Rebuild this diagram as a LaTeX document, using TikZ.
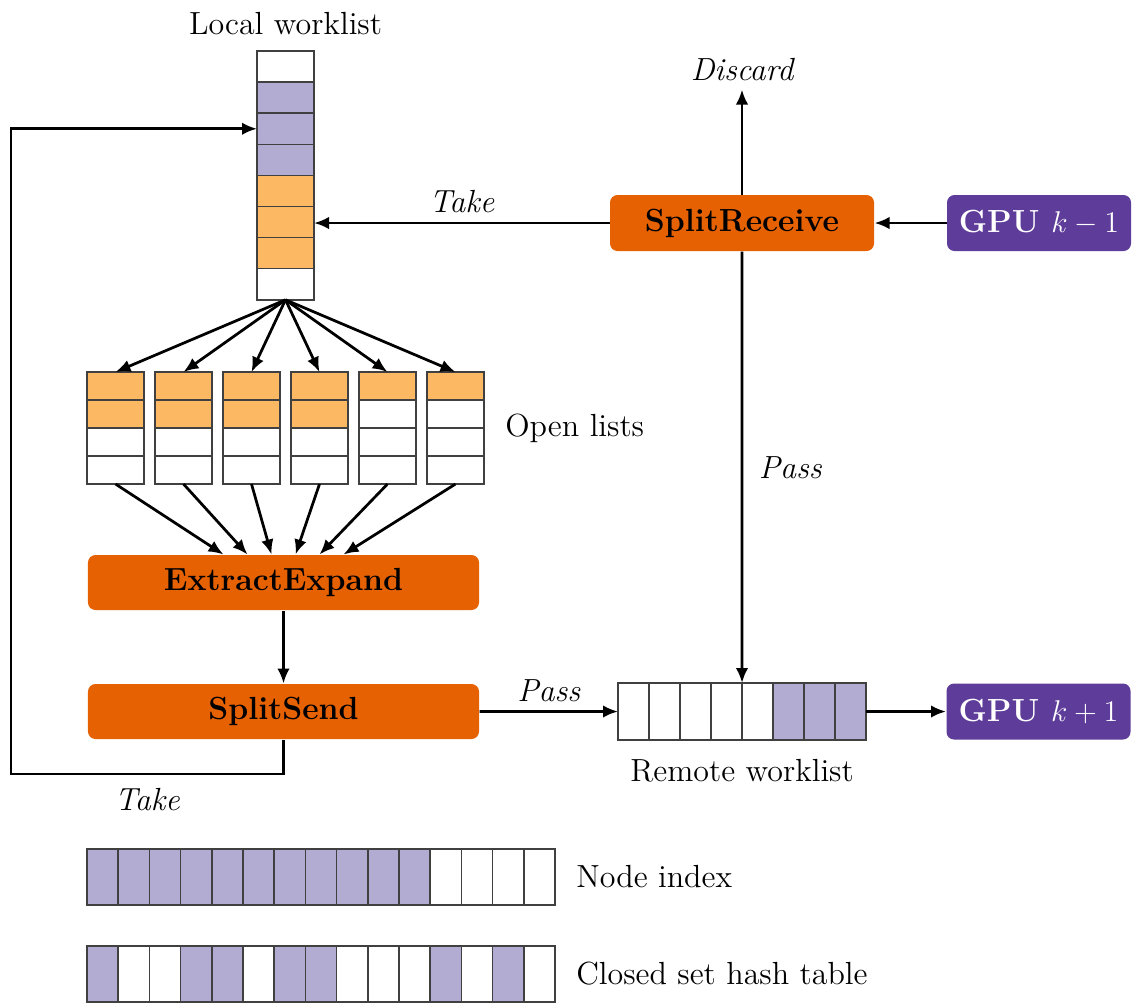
\documentclass[tikz,border=0pt]{standalone}
\usepackage{amsmath,amssymb}
\usepackage{xcolor}
\usepackage{tikz}
\usetikzlibrary{arrows.meta,positioning,calc}
\definecolor{procorange}{HTML}{E66101}
\definecolor{cellorange}{HTML}{FDB863}
\definecolor{celllilac}{HTML}{B2ABD2}
\definecolor{gpupurple}{HTML}{5E3C99}
\newcommand{\diagfont}{\fontsize{12.8}{15.4}\selectfont}
\tikzset{
	cell/.style={draw=black!75, line width=0.6pt, inner sep=0pt, outer sep=0pt},
	procbox/.style={fill=procorange, rounded corners=3pt, align=center,
		font=\diagfont\bfseries, minimum height=22pt},
	gpubox/.style={fill=gpupurple, rounded corners=3pt, text=white,
		font=\diagfont\bfseries, minimum width=73.6pt, minimum height=22.4pt},
	arrow/.style={-{Latex[length=6pt,width=5pt]}, line width=1.1pt},
	edgelabel/.style={font=\diagfont\itshape},
	caption/.style={font=\diagfont}
}

\begin{document}
\begin{tikzpicture}[x=0.4pt, y=-0.4pt,
			wcell/.style={cell, minimum width=22.8pt, minimum height=12.45pt},
			ocell/.style={cell, minimum width=22.8pt, minimum height=11.2pt},
			rcell/.style={cell, minimum width=12.4pt, minimum height=22.8pt},
			tcell/.style={cell, minimum width=12.48pt, minimum height=22.4pt},
			]
			\useasboundingbox (0,0) rectangle (1133,1003);
			
			%% -- Local worklist (stack of cells)
			\foreach \k/\col in {1/white,2/celllilac,3/celllilac,4/celllilac,
				5/cellorange,6/cellorange,7/cellorange,8/white}
			\node[wcell, fill=\col] (lw-\k) at (285.5,{51+31.1*(\k-0.5)}) {};
			
			\node[caption, above=3pt of lw-1] (lwcap) {Local worklist};
			
			%% -- Open lists (six short columns)
			\foreach \c/\colb in {1/cellorange,2/cellorange,3/cellorange,
				4/cellorange,5/white,6/white} {
				\node[ocell, fill=cellorange] (ol-\c-1) at ({115.5+68*(\c-1)},386) {};
				\node[ocell, fill=\colb, below=0pt of ol-\c-1] (ol-\c-2) {};
				\node[ocell, fill=white, below=0pt of ol-\c-2] (ol-\c-3) {};
				\node[ocell, fill=white, below=0pt of ol-\c-3] (ol-\c-4) {};
			}
			
			\node[caption, right=5pt of ol-6-2.south east] (olcap) {Open lists};
			
			%% -- Kernels
			\node[procbox, minimum width=156.4pt] (ee) at (283.5,582.5)
			{ExtractExpand};
			
			\node[procbox, minimum width=156.4pt, below=29.2pt of ee] (ss)
			{SplitSend};
			
			\node[procbox, minimum width=105.6pt, minimum height=22.4pt] (sr)
			at (742,223) {SplitReceive};
			
			%% -- Neighbour GPUs
			\node[gpubox, right=28.8pt of sr] (gpuprev) {GPU $k-1$};
			
			%% -- Remote worklist (row of cells)
			\foreach \k/\col in {1/white,2/white,3/white,4/white,5/white,
				6/celllilac,7/celllilac,8/celllilac}
			\node[rcell, fill=\col] (rw-\k) at ({618+31*(\k-0.5)},711.5) {};
			
			\node[caption, below=4pt of rw-4.south east] (rwcap) {Remote worklist};
			
			\node[gpubox, right=32pt of rw-8] (gpunext) {GPU $k+1$};
			
			%% -- Worklist to open lists, open lists to ExtractExpand
			\foreach \c in {1,...,6}
			\draw[arrow] (lw-8.south) -- (ol-\c-1.north);
			
			\foreach \c in {1,...,6}
			\draw[arrow] (ol-\c-4.south) -- ($(ee.north)+({24*\c-84},0)$);
			
			\draw[arrow] (ee.south) -- (ss.north);
			
			%% -- Take loop back into the local worklist
			\coordinate (loopcorner) at (11,774);
			\draw[arrow] (ss.south) |- (loopcorner)
			node[pos=0.75, below=2pt, edgelabel] (takeloop) {Take}
			|- (lw-3.west);
			
			%% -- Pass edges
			\draw[arrow] (ss.east) -- (rw-1.west)
			node[midway, above, edgelabel] (passout) {Pass};
			
			\draw[arrow] (rw-8.east) -- (gpunext.west);
			
			\draw[arrow] (sr.south) -- (rw-4.north east)
			node[midway, right=1mm, edgelabel] (passdown) {Pass};
			
			%% -- Receive side
			\draw[arrow] (gpuprev.west) -- (sr.east);
			
			\draw[arrow] (sr.west) -- (sr.west -| lw-6.east)
			node[midway, above, edgelabel] (takein) {Take};
			
			\node[edgelabel, above=42pt of sr] (discard) {Discard};
			\draw[arrow] (sr.north) -- (discard.south);
			
			%% -- Node index and closed set
			\foreach \k/\col in {1/celllilac,2/celllilac,3/celllilac,4/celllilac,
				5/celllilac,6/celllilac,7/celllilac,8/celllilac,9/celllilac,
				10/celllilac,11/celllilac,12/white,13/white,14/white,15/white}
			\node[tcell, fill=\col] (ni-\k) at ({87+31.2*(\k-0.5)},877) {};
			
			\foreach \k/\col in {1/celllilac,2/white,3/white,4/celllilac,
				5/celllilac,6/white,7/celllilac,8/celllilac,9/white,10/white,
				11/white,12/celllilac,13/white,14/celllilac,15/white}
			\node[tcell, fill=\col] (ch-\k) at ({87+31.2*(\k-0.5)},974) {};
			
			\node[caption, right=5pt of ni-15] (nicap) {Node index};
			\node[caption, right=5pt of ch-15] (chcap) {Closed set hash table};
			
		\end{tikzpicture}
\end{document}
